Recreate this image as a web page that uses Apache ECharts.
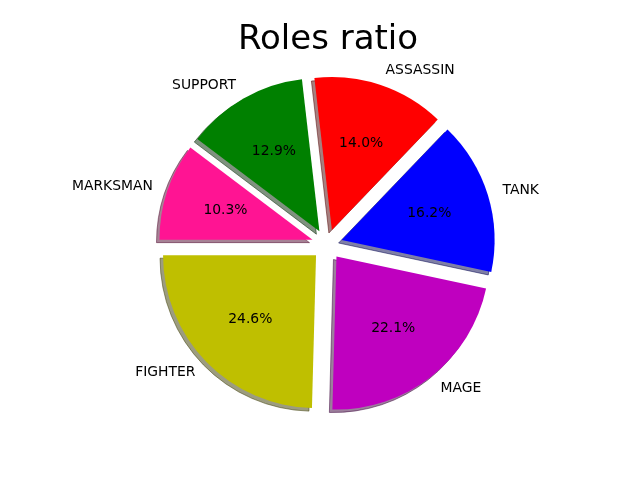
<!DOCTYPE html>
<html>
<head>
<meta charset="utf-8">
<script src="https://cdn.jsdelivr.net/npm/echarts@6/dist/echarts.min.js"></script>
<style>html,body{margin:0;padding:0;background:#fff}#c{width:640px;height:480px}</style>
</head>
<body>
<div id="c"></div>
<script>
// data (counter-clockwise from the left, as in the reference)
const categories = ['FIGHTER', 'MAGE', 'TANK', 'ASSASSIN', 'SUPPORT', 'MARKSMAN'];
const values = [24.6, 22.1, 16.2, 14.0, 12.9, 10.3];
const colors = ['#bfbf00', '#bf00bf', '#0000ff', '#ff0000', '#008000', '#ff1493'];
const titleText = 'Roles ratio';

function shadowOf(hex) {
  const r = parseInt(hex.slice(1, 3), 16), g = parseInt(hex.slice(3, 5), 16), b = parseInt(hex.slice(5, 7), 16);
  return 'rgba(' + Math.round(r * 0.3) + ',' + Math.round(g * 0.3) + ',' + Math.round(b * 0.3) + ',0.5)';
}

const R = 153;
const C = [327, 244.5];
const SH = 3;
const font = 'DejaVu Sans';

const chart = echarts.init(document.getElementById('c'), null, {renderer: 'canvas'});
chart.setOption({
  animation: false,
  backgroundColor: '#ffffff',
  title: {
    text: titleText, left: 328, top: 23, textAlign: 'center', padding: 0,
    textStyle: {fontFamily: font, fontSize: 34, fontWeight: 'normal', color: '#000'}
  },
  series: [
    {
      // shadows
      type: 'pie',
      center: [C[0] - SH, C[1] + SH],
      radius: [0, R],
      startAngle: 180,
      clockwise: false,
      avoidLabelOverlap: false,
      selectedMode: 'multiple',
      selectedOffset: R * 0.1,
      silent: true,
      z: 1,
      label: {show: false},
      labelLine: {show: false},
      emphasis: {disabled: true},
      data: categories.map((n, i) => ({
        name: n, value: values[i], selected: true,
        itemStyle: {color: shadowOf(colors[i]), borderColor: shadowOf(colors[i]), borderWidth: 1}
      }))
    },
    {
      type: 'pie',
      center: C,
      radius: [0, R],
      startAngle: 180,
      clockwise: false,
      avoidLabelOverlap: false,
      selectedMode: 'multiple',
      selectedOffset: R * 0.1,
      silent: true,
      z: 2,
      label: {
        show: true, position: 'outside', formatter: '{b}', color: '#000',
        fontFamily: font, fontSize: 13.9, distanceToLabelLine: 0
      },
      labelLine: {show: false, length: R * 0.1, length2: 0},
      emphasis: {disabled: true},
      data: categories.map((n, i) => ({
        name: n, value: values[i], selected: true,
        itemStyle: {color: colors[i], borderWidth: 0}
      }))
    },
    {
      type: 'pie',
      center: C,
      radius: [0, R * 1.36],
      startAngle: 180,
      clockwise: false,
      avoidLabelOverlap: false,
      silent: true,
      z: 3,
      label: {
        show: true, position: 'inside', color: '#000',
        fontFamily: font, fontSize: 13.9,
        formatter: p => p.percent.toFixed(1) + '%'
      },
      labelLine: {show: false},
      emphasis: {disabled: true},
      itemStyle: {color: 'rgba(0,0,0,0)', borderWidth: 0},
      data: categories.map((n, i) => ({name: n, value: values[i]}))
    }
  ]
});
</script>
</body>
</html>
